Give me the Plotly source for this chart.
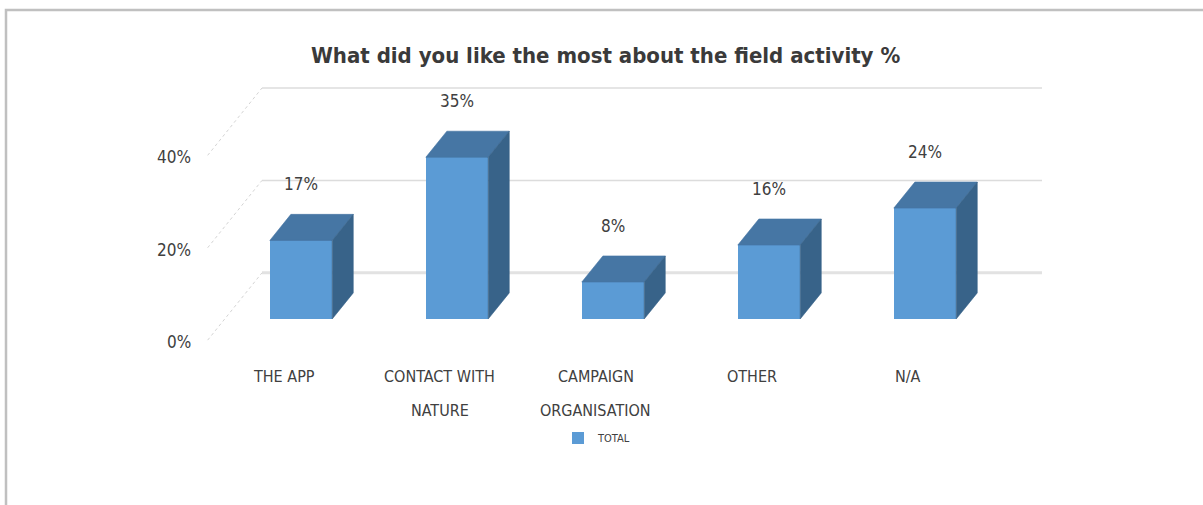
import plotly.graph_objects as go

# Survey answers: share of respondents per option (percent)
categories = ["THE APP", "CONTACT WITH<br>NATURE", "CAMPAIGN<br>ORGANISATION", "OTHER", "N/A"]
values = [17, 35, 8, 16, 24]
value_labels = ["17%", "35%", "8%", "16%", "24%"]
tick_values = [0, 20, 40]
tick_labels = ["0%", "20%", "40%"]
series_name = "TOTAL"
title_text = "What did you like the most about the field activity %"

# Oblique projection used to fake the 3-D look (axis units)
BAR_W = 0.4          # front face width, in category units
DX = 0.135           # horizontal shift per unit of depth
DY = 5.65            # vertical shift per unit of depth (percent units)
Z_FLOOR_FRONT = -0.81
Z_WALL = 1.77
WALL_LEFT_BACK = -0.25
WALL_RIGHT_BACK = 4.75

FRONT = "#5B9BD5"
TOP = "#4676A4"
SIDE = "#386389"
TEXT = "#404040"
FONT = "DejaVu Sans Condensed, Liberation Sans Narrow, sans-serif"

W, H = 1203, 505
# pixel geometry of the data area: category i centre / value 0 baseline
X0_PX, CAT_PX = 301, 156
Y0_PX, PCT_PX = 319, 4.62
x_range = [-X0_PX / CAT_PX, (W - X0_PX) / CAT_PX]
y_range = [(Y0_PX - H) / PCT_PX, Y0_PX / PCT_PX]


def proj(x, v, z):
    return x + z * DX, v + z * DY


fig = go.Figure()

# front faces as a real bar trace
xs = list(range(len(values)))
fig.add_trace(go.Bar(
    x=xs, y=values, width=BAR_W, name=series_name,
    marker=dict(color=FRONT, line=dict(width=0)),
    hoverinfo="skip", showlegend=True,
))

# top and right-side faces
top_x, top_y, side_x, side_y = [], [], [], []
for i, v in enumerate(values):
    l, r = i - BAR_W / 2, i + BAR_W / 2
    pts = [(l, v), (r, v), proj(r, v, 1), proj(l, v, 1), (l, v)]
    top_x += [p[0] for p in pts] + [None]
    top_y += [p[1] for p in pts] + [None]
    pts = [(r, 0), (r, v), proj(r, v, 1), proj(r, 0, 1), (r, 0)]
    side_x += [p[0] for p in pts] + [None]
    side_y += [p[1] for p in pts] + [None]

fig.add_trace(go.Scatter(x=top_x, y=top_y, mode="lines", fill="toself",
                         fillcolor=TOP, line=dict(color=TOP, width=0.6),
                         hoverinfo="skip", showlegend=False))
fig.add_trace(go.Scatter(x=side_x, y=side_y, mode="lines", fill="toself",
                         fillcolor=SIDE, line=dict(color=SIDE, width=0.6),
                         hoverinfo="skip", showlegend=False))

shapes = []
wall_left_front = WALL_LEFT_BACK + (Z_FLOOR_FRONT - Z_WALL) * DX
for g in tick_values:
    # back-wall gridline
    yb = g + Z_WALL * DY
    shapes.append(dict(type="line", xref="x", yref="y", layer="below",
                       x0=WALL_LEFT_BACK, x1=WALL_RIGHT_BACK, y0=yb, y1=yb,
                       line=dict(color="#e2e2e2" if g == 0 else "#dcdcdc",
                                 width=3 if g == 0 else 1.5)))
    # side-wall gridline (dotted, running towards the viewer)
    yf = g + Z_FLOOR_FRONT * DY
    shapes.append(dict(type="line", xref="x", yref="y", layer="below",
                       x0=wall_left_front, y0=yf, x1=WALL_LEFT_BACK, y1=yb,
                       line=dict(color="#d4d4d4", width=1, dash="dot")))

# outer chart frame
shapes.append(dict(type="path", xref="paper", yref="paper",
                   path=f"M {6/W} 0 L {6/W} {1-10/H} L 1 {1-10/H}",
                   line=dict(color="#c0c0c0", width=2.5)))

annotations = []
# value tick labels on the side wall
for g, t in zip(tick_values, tick_labels):
    annotations.append(dict(x=wall_left_front, y=g + Z_FLOOR_FRONT * DY,
                            xref="x", yref="y", text=t, showarrow=False,
                            xanchor="right", yanchor="middle", xshift=-15, yshift=-2,
                            font=dict(family=FONT, size=17, color=TEXT)))
# category labels along the front edge of the floor
for i, c in enumerate(categories):
    fx, fy = proj(i, 0, Z_FLOOR_FRONT)
    for k, line in enumerate(c.split("<br>")):
        annotations.append(dict(x=fx, y=fy, xref="x", yref="y", text=line,
                                showarrow=False, xanchor="center", yanchor="middle",
                                yshift=-36 - 34 * k,
                                font=dict(family=FONT, size=16, color=TEXT)))
# value labels above each bar
for i, (v, t) in enumerate(zip(values, value_labels)):
    annotations.append(dict(x=i, y=v, xref="x", yref="y", text=t, showarrow=False,
                            xanchor="center", yanchor="middle", yshift=56,
                            font=dict(family=FONT, size=17, color=TEXT)))
# title
annotations.append(dict(x=605.5 / W, y=1 - 56 / H, xref="paper", yref="paper",
                        text=f"<b>{title_text}</b>", showarrow=False,
                        xanchor="center", yanchor="middle",
                        font=dict(family=FONT, size=22, color="#3a3a3a")))

fig.update_layout(
    width=W, height=H, autosize=False,
    margin=dict(l=0, r=0, t=0, b=0),
    paper_bgcolor="white", plot_bgcolor="white",
    xaxis=dict(range=x_range, visible=False, fixedrange=True),
    yaxis=dict(range=y_range, visible=False, fixedrange=True),
    shapes=shapes, annotations=annotations,
    showlegend=True,
    legend=dict(x=(598 - 40) / W, y=1 - 438 / H, xanchor="left", yanchor="middle",
                orientation="h", bgcolor="rgba(0,0,0,0)",
                font=dict(family=FONT, size=11, color=TEXT)),
    bargap=0,
)

fig.write_html("out.html")
